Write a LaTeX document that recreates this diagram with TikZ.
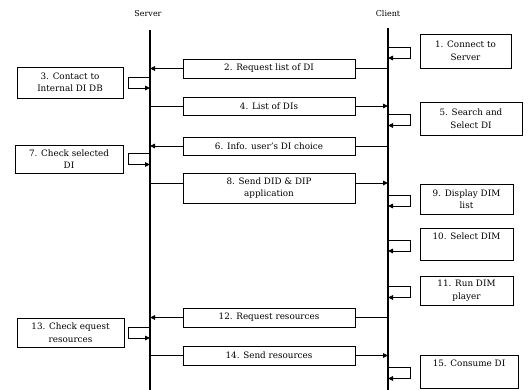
\documentclass[tikz,border=0pt]{standalone}
\usepackage{fontspec}
\setmainfont{DejaVu Serif}
\usetikzlibrary{arrows.meta,positioning,calc}

\begin{document}
\begin{tikzpicture}[x=1pt,y=-1pt,
    font=\fontsize{8.8}{12.5}\selectfont,
    lifeline/.style={line width=1.1pt},
    link/.style={line width=0.9pt},
    flow/.style={line width=0.9pt,-{Triangle[length=5pt,width=4.5pt]}},
    msgbox/.style={draw,line width=0.9pt,minimum width=172pt,inner sep=1pt,align=center},
    actbox/.style={draw,line width=0.9pt,inner sep=1pt,align=center}]
  \useasboundingbox (0,0) rectangle (529,390);

  % lifelines
  \node[font=\fontsize{8}{9}\selectfont] (server) at (148,14) {Server};
  \node[font=\fontsize{8}{9}\selectfont] (client) at (388,14) {Client};
  \coordinate (srv) at (150,30);
  \coordinate (srvend) at (150,390);
  \coordinate (cli) at (388,28);
  \coordinate (cliend) at (388,390);
  \draw[lifeline] (srv) -- (srvend);
  \draw[lifeline] (cli) -- (cliend);

  % client actions
  \node[actbox,minimum width=91pt,minimum height=34pt] (c1) at (465.5,51) {1. Connect to\\Server};
  \node[actbox,minimum width=102pt,minimum height=33pt] (c5) at (471,118.5) {5. Search and\\Select DI};
  \node[actbox,minimum width=93pt,minimum height=30pt] (c9) at (466.5,199) {9. Display DIM\\list};
  \node[actbox,minimum width=93pt,minimum height=32pt] (c10) at (466.5,244) {10. Select DIM\\\strut};
  \node[actbox,minimum width=93pt,minimum height=29pt] (c11) at (466.5,290.5) {11. Run DIM\\player};
  \node[actbox,minimum width=98pt,minimum height=33pt] (c15) at (469,371.5) {15. Consume DI\\\strut};

  % server actions
  \node[actbox,minimum width=106pt,minimum height=31pt] (s3) at (70,82.5) {3. Contact to\\Internal DI DB};
  \node[actbox,minimum width=108pt,minimum height=28pt] (s7) at (69,159) {7. Check selected\\DI};
  \node[actbox,minimum width=107pt,minimum height=29pt] (s13) at (70.5,332.5) {13. Check equest\\resources};

  % messages
  \node[msgbox,minimum height=19pt] (m2) at (269,68.5) {2. Request list of DI};
  \node[msgbox,minimum height=18pt] (m4) at (269,106) {4. List of DIs};
  \node[msgbox,minimum height=18pt] (m6) at (269,146) {6. Info. user's DI choice};
  \node[msgbox,minimum height=30pt] (m8) at (269,188) {8. Send DID \& DIP\\application};
  \node[msgbox,minimum height=19pt] (m12) at (269,317.5) {12. Request resources};
  \node[msgbox,minimum height=19pt] (m14) at (269,355.5) {14. Send resources};

  % client -> server
  \foreach \m in {m2,m6,m12}{
    \draw[link] (\m.east -| cli) -- (\m.east);
    \draw[flow] (\m.west) -- (\m.west -| srv);
  }
  % server -> client
  \foreach \m in {m4,m14}{
    \draw[link] (\m.west -| srv) -- (\m.west);
    \draw[flow] (\m.east) -- (\m.east -| cli);
  }
  \coordinate (m8w) at ($(m8.west)+(0,-5)$);
  \coordinate (m8e) at ($(m8.east)+(0,-5)$);
  \draw[link] (m8w -| srv) -- (m8w);
  \draw[flow] (m8e) -- (m8e -| cli);

  % self loops
  \foreach \b in {s3,s7,s13}
    \draw[flow] ($(\b.east -| srv)+(0,-5.5)$) -- ++(-22,0) -- ++(0,11) -- ++(22,0);
  \foreach \b in {c1,c5,c9,c10,c11,c15}
    \draw[flow] ($(\b.west -| cli)+(0,-4)$) -- ++(22,0) -- ++(0,11) -- ++(-22,0);
\end{tikzpicture}
\end{document}
